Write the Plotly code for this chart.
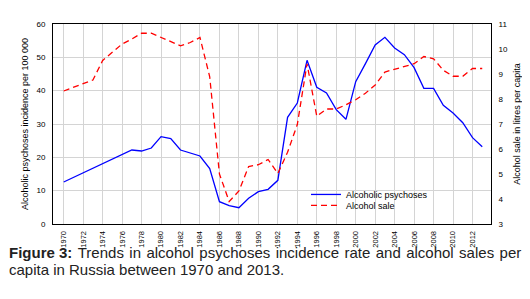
import plotly.graph_objects as go

psy_years = [1970, 1977, 1978, 1979, 1980, 1981, 1982, 1983, 1984, 1985, 1986, 1987, 1988, 1989,
             1990, 1991, 1992, 1993, 1994, 1995, 1996, 1997, 1998, 1999, 2000, 2001, 2002, 2003,
             2004, 2005, 2006, 2007, 2008, 2009, 2010, 2011, 2012, 2013]
psy_values = [12.6, 22.2, 21.9, 22.8, 26.2, 25.6, 22.2, 21.2, 20.4, 16.6, 6.7, 5.5, 4.9, 7.7,
              9.7, 10.4, 13.1, 32.0, 36.3, 49.1, 41.0, 39.3, 34.3, 31.4, 42.7, 48.1, 53.7, 56.0,
              52.8, 50.8, 46.9, 40.7, 40.7, 35.6, 33.3, 30.4, 25.9, 23.2]

sale_years = [1970, 1972, 1973, 1974, 1975, 1976, 1977, 1978, 1979, 1980, 1981, 1982, 1983, 1984,
              1985, 1986, 1987, 1988, 1989, 1990, 1991, 1992, 1993, 1994, 1995, 1996, 1997, 1998,
              1999, 2000, 2001, 2002, 2003, 2004, 2005, 2006, 2007, 2008, 2009, 2010, 2011, 2012, 2013]
sale_values = [8.32, 8.63, 8.76, 9.54, 9.87, 10.2, 10.4, 10.63, 10.63, 10.46, 10.29, 10.13, 10.26, 10.46,
               8.89, 5.0, 3.9, 4.32, 5.30, 5.37, 5.58, 5.02, 5.87, 6.98, 9.41, 7.31, 7.6, 7.6,
               7.77, 7.97, 8.23, 8.56, 9.08, 9.18, 9.28, 9.41, 9.70, 9.61, 9.15, 8.91, 8.91, 9.22, 9.22]

tick_years = list(range(1970, 2013, 2))

caption_line1_words = ["<b>Figure 3:</b>", "Trends", "in", "alcohol", "psychoses", "incidence",
                       "rate", "and", "alcohol", "sales", "per"]
caption_line2 = "capita in Russia between 1970 and 2013."

FONT = "Liberation Sans, Arial, sans-serif"
PW, PH = 438, 203  # plot area size in px

fig = go.Figure()
fig.add_trace(go.Scatter(x=psy_years, y=psy_values, mode="lines", name="Alcoholic psychoses",
                         line=dict(color="#0000ff", width=1.3), legend="legend"))
fig.add_trace(go.Scatter(x=sale_years, y=sale_values, mode="lines", name="Alcohol sale", yaxis="y2",
                         line=dict(color="#ff0000", width=1.3, dash="6px,4px"), legend="legend2"))

leg_common = dict(xanchor="left", yanchor="middle", bgcolor="rgba(0,0,0,0)",
                  font=dict(size=9, family=FONT), borderwidth=0)

fig.update_layout(
    width=530, height=299,
    margin=dict(l=45, r=47, t=13, b=83),
    paper_bgcolor="white", plot_bgcolor="white",
    font=dict(family=FONT, size=8, color="black"),
    showlegend=True,
    legend=dict(x=(298 - 45) / PW, y=(216 - 186) / PH, **leg_common),
    legend2=dict(x=(298 - 45) / PW, y=(216 - 197) / PH, **leg_common),
    xaxis=dict(range=[1968.9, 2013.9], tickmode="array", tickvals=tick_years,
               ticktext=[str(y) for y in tick_years], tickangle=-90,
               showgrid=True, gridcolor="#d4d4d4", gridwidth=1,
               showline=True, linecolor="black", linewidth=1, mirror=True,
               ticks="", ticklabelstandoff=3, zeroline=False,
               tickfont=dict(size=7.5)),
    yaxis=dict(range=[0, 60], tickvals=[0, 10, 20, 30, 40, 50, 60],
               showgrid=True, gridcolor="#d4d4d4", gridwidth=1,
               showline=True, linecolor="black", linewidth=1, mirror=True,
               ticks="", ticklabelstandoff=5, zeroline=False,
               title=dict(text="Alcoholic psychoses incidence per 100 000", font=dict(size=9), standoff=6)),
    yaxis2=dict(range=[3, 11], tickvals=list(range(3, 12)), overlaying="y", side="right",
                showgrid=False, showline=True, linecolor="black", linewidth=1,
                ticks="", ticklabelstandoff=5, zeroline=False,
                title=dict(text="Alcohol sale in litres per capita", font=dict(size=9), standoff=6)),
)

# approximate justification of line 1 with hair spaces in the gaps
line1 = (" \u200a").join(caption_line1_words)

fig.add_annotation(xref="paper", yref="paper", x=-45 / PW, y=-(245 - 216) / PH, xanchor="left", yanchor="middle",
                   showarrow=False, align="left", text=line1, borderpad=0,
                   font=dict(size=15, family=FONT, color="#222"))
fig.add_annotation(xref="paper", yref="paper", x=-45 / PW, y=-(262 - 216) / PH, xanchor="left", yanchor="middle",
                   showarrow=False, align="left", text=caption_line2, borderpad=0,
                   font=dict(size=15, family=FONT, color="#222"))

fig.write_html("out.html")
